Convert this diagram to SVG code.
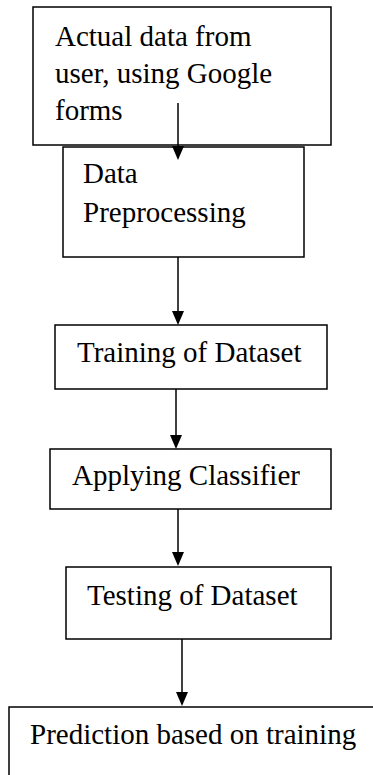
<svg xmlns="http://www.w3.org/2000/svg" width="373" height="775" viewBox="0 0 373 775">
<style>
.box{fill:#fff;stroke:#000;stroke-width:1.5}
.lbl{font-family:"Liberation Serif","Times New Roman",serif;font-size:29px;fill:#000}
.conn{stroke:#000;stroke-width:1.5;fill:none;marker-end:url(#arr)}
</style>
<defs>
<marker id="arr" viewBox="0 0 14 14" refX="10" refY="7" markerWidth="14" markerHeight="14" markerUnits="userSpaceOnUse" orient="auto">
<path d="M0,1 L14,7 L0,13 z" fill="#000"/>
</marker>
</defs>
<rect width="373" height="775" fill="#fff"/>
<g id="n1">
<rect class="box" x="33" y="7" width="298" height="138"/>
<text class="lbl" x="55" y="46">Actual data from</text>
<text class="lbl" x="55" y="83">user, using Google</text>
<text class="lbl" x="55" y="120">forms</text>
</g>
<g id="n2">
<rect class="box" x="63" y="147" width="241" height="110"/>
<text class="lbl" x="83" y="183">Data</text>
<text class="lbl" x="83" y="222">Preprocessing</text>
</g>
<g id="n3">
<rect class="box" x="55" y="325" width="272" height="64"/>
<text class="lbl" x="77" y="362">Training of Dataset</text>
</g>
<g id="n4">
<rect class="box" x="50" y="449" width="281" height="60"/>
<text class="lbl" x="72" y="485">Applying Classifier</text>
</g>
<g id="n5">
<rect class="box" x="66" y="567" width="265" height="72"/>
<text class="lbl" x="87" y="605">Testing of Dataset</text>
</g>
<g id="n6">
<rect class="box" x="9" y="707" width="370" height="80"/>
<text class="lbl" x="30" y="744">Prediction based on training</text>
</g>
<g id="connectors">
<line class="conn" x1="178" y1="103" x2="178" y2="156"/>
<line class="conn" x1="178" y1="257" x2="178" y2="321"/>
<line class="conn" x1="176" y1="389" x2="176" y2="445"/>
<line class="conn" x1="178" y1="509" x2="178" y2="562"/>
<line class="conn" x1="182" y1="639" x2="182" y2="702"/>
</g>
</svg>
